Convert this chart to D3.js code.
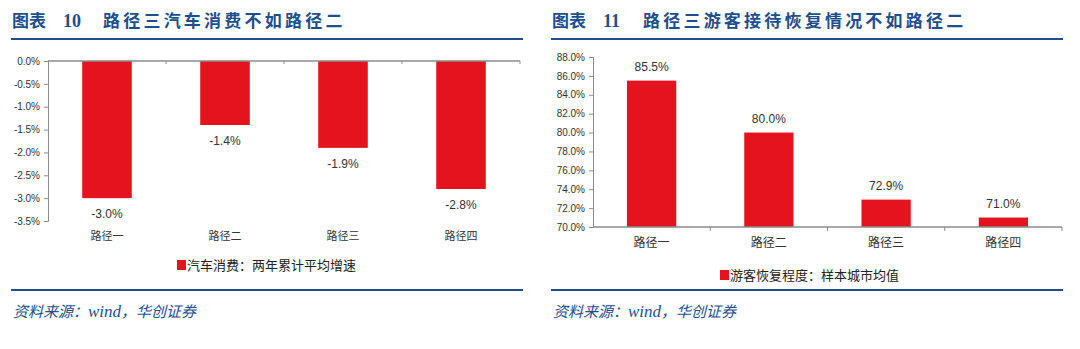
<!DOCTYPE html>
<html><head><meta charset="utf-8">
<script src="https://cdn.jsdelivr.net/npm/d3@7/dist/d3.min.js"></script>
<style>
body{margin:0;background:#fff;}
svg{display:block;}
.tick text{font-family:"Liberation Sans Narrow","Liberation Sans",Arial,sans-serif;}
</style></head>
<body><svg id="c" width="1080" height="349"></svg>
<script>
const categories = ["路径一","路径二","路径三","路径四"];
const carValues = [-3.0, -1.4, -1.9, -2.8];
const carTicks = [0, -0.5, -1.0, -1.5, -2.0, -2.5, -3.0, -3.5];
const touristValues = [85.5, 80.0, 72.9, 71.0];
const touristTicks = [70, 72, 74, 76, 78, 80, 82, 84, 86, 88];
const titles = [
  {num:"10", text:"路径三汽车消费不如路径二"},
  {num:"11", text:"路径三游客接待恢复情况不如路径二"}
];
const legends = ["汽车消费：两年累计平均增速","游客恢复程度：样本城市均值"];
const sourceText = ["资料来源：", "wind", "，华创证券"];

const svg = d3.select("#c");
const BLUE = "#1f4e8c", RED = "#e3141d", AX = "#8c8c8c";
const CJK = "'Noto Sans CJK SC',sans-serif";
const NARROW = "'Liberation Sans Narrow','Liberation Sans',Arial,sans-serif";

function header(g, x0, x1, t){
  g.append("text").attr("x",x0+1).attr("y",27).attr("fill",BLUE)
    .attr("font-family",CJK).attr("font-weight","bold").attr("font-size",17).text("图表");
  g.append("text").attr("x",x0+52).attr("y",27).attr("fill",BLUE)
    .attr("font-family","'Liberation Serif',serif").attr("font-weight","bold").attr("font-size",18).text(t.num);
  g.append("text").attr("x",x0+92).attr("y",27).attr("fill",BLUE)
    .attr("font-family",CJK).attr("font-weight","bold").attr("font-size",17)
    .attr("textLength", t.text.length*20.2-3).attr("lengthAdjust","spacing").text(t.text);
  g.append("line").attr("x1",x0).attr("x2",x1).attr("y1",39).attr("y2",39)
    .attr("stroke",BLUE).attr("stroke-width",2);
  g.append("line").attr("x1",x0).attr("x2",x1).attr("y1",290).attr("y2",290)
    .attr("stroke",BLUE).attr("stroke-width",2);
  const s = g.append("text").attr("x",x0+2).attr("y",317).attr("fill",BLUE)
    .attr("font-size",16).attr("font-style","italic");
  s.append("tspan").attr("font-family",CJK).attr("font-size",15).text(sourceText[0]);
  s.append("tspan").attr("font-family","'Liberation Serif',serif").attr("font-size",17).text(sourceText[1]);
  s.append("tspan").attr("font-family",CJK).attr("font-size",15).text(sourceText[2]);
}

function legend(g, x, y, label){
  g.append("rect").attr("x",x).attr("y",y-5).attr("width",9).attr("height",10).attr("fill",RED);
  g.append("text").attr("x",x+10).attr("y",y).attr("dy","0.35em").attr("fill","#222")
    .attr("font-family",CJK).attr("font-size",13).text(label);
}

// ---------- Left chart ----------
{
  const g = svg.append("g");
  header(g, 11, 523, titles[0]);
  const x = d3.scaleBand().domain(categories).range([48,520]).padding(0);
  const y = d3.scaleLinear().domain([-3.5,0]).range([221,61]);
  const bw = x.bandwidth()*0.42;
  g.selectAll("rect.bar").data(carValues).join("rect").attr("class","bar")
    .attr("x",(d,i)=>x(categories[i])+x.bandwidth()/2-bw/2).attr("width",bw)
    .attr("y",y(0)).attr("height",d=>y(d)-y(0)).attr("fill",RED);
  const ya = g.append("g").attr("transform","translate(48,0)")
    .call(d3.axisLeft(y).tickValues(carTicks).tickSize(4).tickPadding(4).tickFormat(d=>d.toFixed(1)+"%"));
  ya.select(".domain").attr("stroke",AX);
  ya.selectAll(".tick line").attr("stroke",AX);
  ya.selectAll(".tick text").attr("fill","#333").attr("font-size",10).attr("font-family",NARROW);
  g.append("line").attr("x1",48).attr("x2",520).attr("y1",y(0)).attr("y2",y(0)).attr("stroke",AX).attr("stroke-width",1.5);
  const bounds = categories.map(c=>x(c)).concat([x.range()[1]]);
  g.selectAll("line.xt").data(bounds.slice(1)).join("line").attr("class","xt")
    .attr("x1",d=>d).attr("x2",d=>d).attr("y1",y(0)).attr("y2",y(0)+3).attr("stroke",AX);
  g.selectAll("text.val").data(carValues).join("text").attr("class","val")
    .attr("x",(d,i)=>x(categories[i])+x.bandwidth()/2).attr("y",d=>y(d)+20)
    .attr("text-anchor","middle").attr("fill","#333").attr("font-family",NARROW).attr("font-size",12)
    .text(d=>d.toFixed(1)+"%");
  g.selectAll("text.cat").data(categories).join("text").attr("class","cat")
    .attr("x",d=>x(d)+x.bandwidth()/2).attr("y",236).attr("dy","0.35em")
    .attr("text-anchor","middle").attr("fill","#333").attr("font-family",CJK).attr("font-size",11).text(d=>d);
  legend(g, 177, 265, legends[0]);
}

// ---------- Right chart ----------
{
  const g = svg.append("g");
  header(g, 551, 1063, titles[1]);
  const x = d3.scaleBand().domain(categories).range([593,1062]).padding(0);
  const y = d3.scaleLinear().domain([70,88]).range([227,57]);
  const bw = x.bandwidth()*0.42;
  g.selectAll("rect.bar").data(touristValues).join("rect").attr("class","bar")
    .attr("x",(d,i)=>x(categories[i])+x.bandwidth()/2-bw/2).attr("width",bw)
    .attr("y",d=>y(d)).attr("height",d=>y(70)-y(d)).attr("fill",RED);
  const ya = g.append("g").attr("transform","translate(593,0)")
    .call(d3.axisLeft(y).tickValues(touristTicks).tickSize(4).tickPadding(4).tickFormat(d=>d.toFixed(1)+"%"));
  ya.select(".domain").attr("stroke",AX);
  ya.selectAll(".tick line").attr("stroke",AX);
  ya.selectAll(".tick text").attr("fill","#333").attr("font-size",10).attr("font-family",NARROW);
  g.append("line").attr("x1",593).attr("x2",1062).attr("y1",y(70)).attr("y2",y(70)).attr("stroke",AX).attr("stroke-width",1.5);
  const bounds = categories.map(c=>x(c)).concat([x.range()[1]]);
  g.selectAll("line.xt").data(bounds.slice(1)).join("line").attr("class","xt")
    .attr("x1",d=>d).attr("x2",d=>d).attr("y1",y(70)).attr("y2",y(70)+4).attr("stroke",AX);
  g.selectAll("text.val").data(touristValues).join("text").attr("class","val")
    .attr("x",(d,i)=>x(categories[i])+x.bandwidth()/2).attr("y",d=>y(d)-10)
    .attr("text-anchor","middle").attr("fill","#333").attr("font-family",NARROW).attr("font-size",12)
    .text(d=>d.toFixed(1)+"%");
  g.selectAll("text.cat").data(categories).join("text").attr("class","cat")
    .attr("x",d=>x(d)+x.bandwidth()/2).attr("y",243).attr("dy","0.35em")
    .attr("text-anchor","middle").attr("fill","#333").attr("font-family",CJK).attr("font-size",12).text(d=>d);
  legend(g, 720, 275, legends[1]);
}
</script></body></html>
